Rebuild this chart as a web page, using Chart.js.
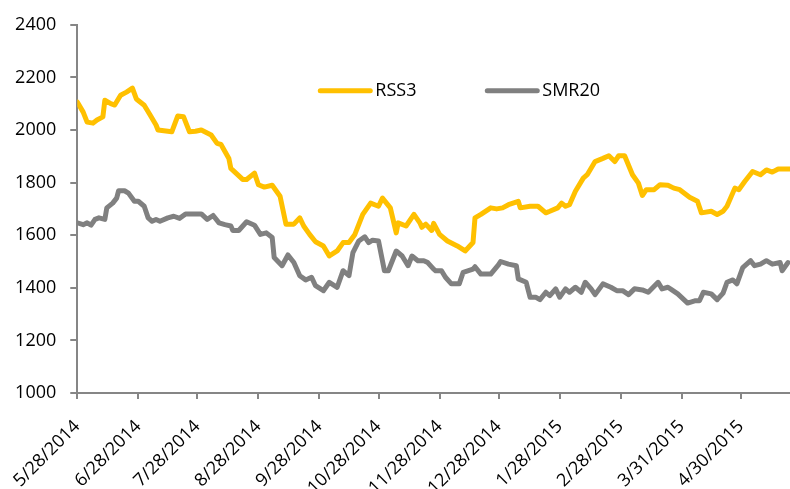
<!DOCTYPE html>
<html>
<head>
<meta charset="utf-8">
<script src="https://cdn.jsdelivr.net/npm/chart.js@4"></script>
<style>
  html, body { margin: 0; padding: 0; background: #fff; }
  .wrapper { width: 790px; height: 489px; position: relative; }
</style>
</head>
<body>
<div class="wrapper"><canvas id="Chart" width="790" height="489"></canvas></div>
<script>
// x values are days since 5/28/2014
const tickDays = [0, 31, 61, 92, 123, 153, 184, 214, 245, 276, 307, 337];
const tickLabels = ["5/28/2014", "6/28/2014", "7/28/2014", "8/28/2014", "9/28/2014", "10/28/2014",
  "11/28/2014", "12/28/2014", "1/28/2015", "2/28/2015", "3/31/2015", "4/30/2015"];

const rss3Days = [0, 3, 5, 8, 10, 13, 14, 17, 19, 22, 25, 28, 30, 34, 37, 40, 41, 48, 51, 54, 57, 60,
  63, 68, 71, 73, 77, 78, 84, 86, 90, 92, 95, 99, 103, 106, 110, 113, 115, 118, 121, 125, 128, 132,
  135, 138, 141, 145, 149, 153, 155, 159, 162, 163, 167, 171, 174, 175, 177, 180, 181, 184, 188,
  193, 197, 201, 202, 205, 210, 213, 216, 219, 224, 225, 230, 234, 238, 240, 244, 246, 248, 250,
  253, 257, 259, 263, 267, 270, 273, 275, 278, 282, 285, 287, 289, 293, 296, 300, 303, 306, 311,
  315, 317, 322, 325, 328, 330, 334, 336, 339, 343, 347, 350, 353, 356, 359, 362];
const rss3 = [2106, 2068, 2030, 2026, 2038, 2050, 2113, 2100, 2095, 2132, 2144, 2159, 2118, 2094,
  2057, 2019, 2000, 1993, 2053, 2050, 1993, 1995, 2000, 1981, 1949, 1945, 1892, 1854, 1812, 1812,
  1836, 1792, 1783, 1790, 1748, 1642, 1642, 1666, 1635, 1603, 1575, 1559, 1521, 1540, 1572, 1572,
  1603, 1679, 1722, 1710, 1741, 1704, 1609, 1647, 1635, 1679, 1647, 1630, 1642, 1618, 1645, 1603,
  1578, 1559, 1540, 1572, 1666, 1679, 1704, 1700, 1704, 1716, 1729, 1704, 1710, 1710, 1685, 1691,
  1704, 1722, 1710, 1716, 1767, 1817, 1830, 1880, 1892, 1902, 1880, 1902, 1902, 1830, 1798, 1751,
  1773, 1773, 1792, 1790, 1779, 1773, 1744, 1729, 1685, 1691, 1679, 1691, 1710, 1779, 1773, 1804,
  1842, 1830, 1848, 1840, 1852, 1852, 1852];

const smr20Days = [0, 3, 5, 7, 9, 11, 14, 15, 18, 20, 21, 24, 26, 29, 31, 34, 36, 38, 40, 42, 46,
  49, 52, 55, 63, 66, 69, 72, 75, 78, 79, 82, 86, 90, 93, 96, 99, 100, 104, 107, 110, 113, 116,
  119, 121, 125, 128, 132, 135, 138, 140, 143, 146, 148, 150, 153, 156, 158, 162, 165, 168, 170,
  173, 176, 178, 181, 182, 185, 187, 190, 194, 196, 201, 202, 205, 210, 214, 215, 219, 223, 224,
  228, 230, 233, 235, 238, 240, 243, 245, 248, 250, 253, 256, 258, 261, 263, 267, 271, 274, 277,
  280, 283, 287, 290, 295, 297, 300, 302, 305, 310, 314, 316, 318, 322, 325, 328, 330, 333, 335,
  338, 342, 344, 347, 350, 353, 357, 358, 361];
const smr20 = [1647, 1640, 1647, 1638, 1660, 1666, 1660, 1704, 1722, 1741, 1769, 1769, 1760, 1729,
  1729, 1710, 1666, 1653, 1660, 1653, 1666, 1672, 1664, 1681, 1681, 1660, 1675, 1647, 1640, 1635,
  1618, 1618, 1651, 1638, 1603, 1609, 1591, 1515, 1484, 1525, 1496, 1446, 1430, 1440, 1408, 1389,
  1421, 1402, 1465, 1446, 1534, 1578, 1594, 1572, 1581, 1578, 1465, 1465, 1540, 1521, 1484, 1521,
  1503, 1503, 1496, 1471, 1465, 1465, 1440, 1415, 1415, 1459, 1471, 1480, 1452, 1452, 1488, 1500,
  1490, 1484, 1434, 1421, 1364, 1364, 1355, 1383, 1370, 1396, 1364, 1396, 1383, 1402, 1383, 1421,
  1396, 1374, 1415, 1402, 1389, 1389, 1374, 1396, 1392, 1383, 1421, 1396, 1402, 1392, 1377, 1342,
  1351, 1351, 1383, 1377, 1355, 1380, 1421, 1430, 1415, 1477, 1503, 1484, 1490, 1503, 1490, 1496,
  1465, 1496];

function toPoints(days, vals) {
  let pts = [];
  for (var i = 0; i < days.length; i++) {
    pts.push({ x: days[i], y: vals[i] });
  }
  return pts;
}

const axisGray = '#868686';
const fontSpec = { family: "'Open Sans', sans-serif", size: 18 };

// legend drawn inside the plot, like the original
const insideLegend = {
  id: 'insideLegend',
  afterDraw(chart) {
    const ctx = chart.ctx;
    const area = chart.chartArea;
    let x = area.left + 241;
    const y = area.top + 66;
    ctx.save();
    ctx.font = "18px 'Open Sans', sans-serif";
    ctx.textBaseline = 'middle';
    chart.data.datasets.forEach(function(ds) {
      ctx.strokeStyle = ds.borderColor;
      ctx.lineWidth = 5;
      ctx.lineCap = 'round';
      ctx.beginPath();
      ctx.moveTo(x + 2, y);
      ctx.lineTo(x + 52, y);
      ctx.stroke();
      ctx.fillStyle = '#000';
      ctx.fillText(ds.label, x + 57, y);
      x += 167;
    });
    ctx.restore();
  }
};

var ctx = document.getElementById('Chart');
var myChart = new Chart(ctx, {
  type: 'line',
  data: {
    datasets: [{
      label: 'RSS3',
      data: toPoints(rss3Days, rss3),
      borderColor: '#FFC000',
      borderWidth: 5,
      pointRadius: 0,
      borderJoinStyle: 'round',
      borderCapStyle: 'round',
      fill: false
    }, {
      label: 'SMR20',
      data: toPoints(smr20Days, smr20),
      borderColor: '#808080',
      borderWidth: 5,
      pointRadius: 0,
      borderJoinStyle: 'round',
      borderCapStyle: 'round',
      fill: false
    }]
  },
  options: {
    responsive: false,
    animation: false,
    layout: { padding: { top: 22, left: 0, right: 0, bottom: 0 } },
    plugins: { legend: { display: false }, tooltip: { enabled: false } },
    scales: {
      x: {
        type: 'linear',
        min: 0,
        max: 362,
        afterBuildTicks: function(scale) {
          scale.ticks = tickDays.map(function(d) { return { value: d }; });
        },
        afterFit: function(scale) { scale.height = 96; },
        border: { color: axisGray, width: 2 },
        grid: { drawOnChartArea: false, drawTicks: true, tickLength: 6, color: axisGray, lineWidth: 2 },
        ticks: {
          autoSkip: false,
          maxRotation: 45,
          minRotation: 45,
          padding: 17,
          color: '#000',
          font: fontSpec,
          callback: function(value, index) { return tickLabels[index]; }
        }
      },
      y: {
        min: 1000,
        max: 2400,
        afterFit: function(scale) { scale.width = 75; },
        border: { color: axisGray, width: 2 },
        grid: { drawOnChartArea: false, drawTicks: true, tickLength: 7, color: axisGray, lineWidth: 2 },
        ticks: {
          stepSize: 200,
          padding: 14,
          color: '#000',
          font: fontSpec,
          callback: function(value) { return String(value); }
        }
      }
    }
  },
  plugins: [insideLegend]
});
</script>
</body>
</html>
